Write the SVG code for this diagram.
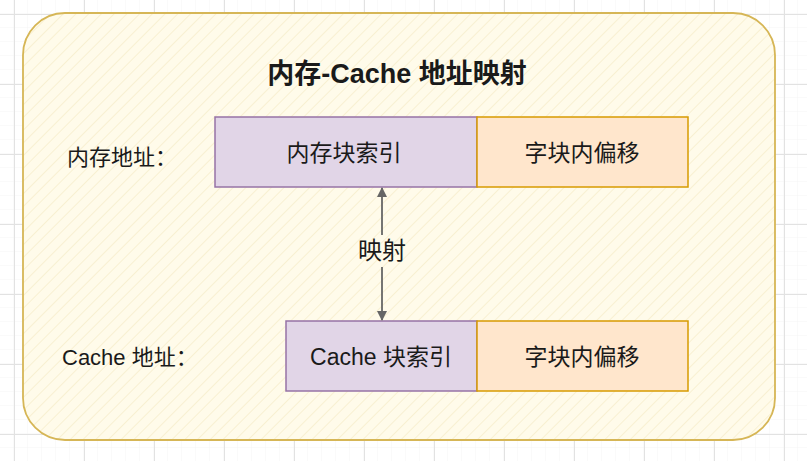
<svg xmlns="http://www.w3.org/2000/svg" width="807" height="461" viewBox="0 0 807 461">
<style>
.t{font-family:"Liberation Sans","Noto Sans CJK SC",sans-serif;fill:#1a1a1a;}
.lbl{font-size:22px;}
.box{font-size:23px;text-anchor:middle;}
.purple{fill:#e1d5e7;stroke:#9673a6;stroke-width:1.5;}
.orange{fill:#ffe6cc;stroke:#d79b00;stroke-width:1.5;}
.conn{stroke:#666;stroke-width:1.8;fill:none;}
</style>
<defs>
<pattern id="minor" width="14" height="14" patternUnits="userSpaceOnUse">
<path d="M14 0V14M0 14H14" stroke="#f4f4f4" stroke-width="1" fill="none"/>
</pattern>
<pattern id="major" x="14" y="14" width="70" height="70" patternUnits="userSpaceOnUse">
<path d="M0.5 0V70M0 0.5H70" stroke="#e2e2e2" stroke-width="1" fill="none"/>
</pattern>
<pattern id="hatch" width="9" height="9" patternUnits="userSpaceOnUse" patternTransform="rotate(-45)">
<rect width="9" height="9" fill="#fffbea"/>
<path d="M0 0H9" stroke="#f5ebc6" stroke-width="1.3"/>
</pattern>
<marker id="ah" viewBox="0 0 10 10" refX="9" refY="5" markerWidth="10" markerHeight="11" orient="auto-start-reverse" markerUnits="userSpaceOnUse">
<path d="M0 0L10 5L0 10z" fill="#666"/>
</marker>
</defs>
<rect width="807" height="461" fill="#fff"/>
<rect width="807" height="461" fill="url(#minor)"/>
<rect width="807" height="461" fill="url(#major)"/>
<g id="container">
<rect x="23" y="13" width="752" height="427" rx="42" ry="42" fill="url(#hatch)" stroke="#d6b656" stroke-width="1.8"/>
</g>
<g id="title">
<text class="t" x="397" y="83" font-size="27" font-weight="bold" text-anchor="middle">内存-Cache 地址映射</text>
</g>
<g id="mem-label">
<text class="t lbl" x="67" y="165">内存地址：</text>
</g>
<g id="cache-label">
<text class="t lbl" x="62" y="365">Cache 地址：</text>
</g>
<g id="mem-index">
<rect class="purple" x="215" y="117" width="262" height="70"/>
<text class="t box" x="344" y="161">内存块索引</text>
</g>
<g id="mem-offset">
<rect class="orange" x="477" y="117" width="211" height="70"/>
<text class="t box" x="582" y="161">字块内偏移</text>
</g>
<g id="cache-index">
<rect class="purple" x="286" y="321" width="191" height="70"/>
<text class="t box" x="381" y="365">Cache 块索引</text>
</g>
<g id="cache-offset">
<rect class="orange" x="477" y="321" width="211" height="70"/>
<text class="t box" x="582" y="365">字块内偏移</text>
</g>
<g id="connectors">
<line class="conn" x1="382" y1="235" x2="382" y2="188" marker-end="url(#ah)"/>
<line class="conn" x1="382" y1="267" x2="382" y2="320" marker-end="url(#ah)"/>
<text class="t" x="382" y="259" font-size="24" text-anchor="middle">映射</text>
</g>
</svg>
